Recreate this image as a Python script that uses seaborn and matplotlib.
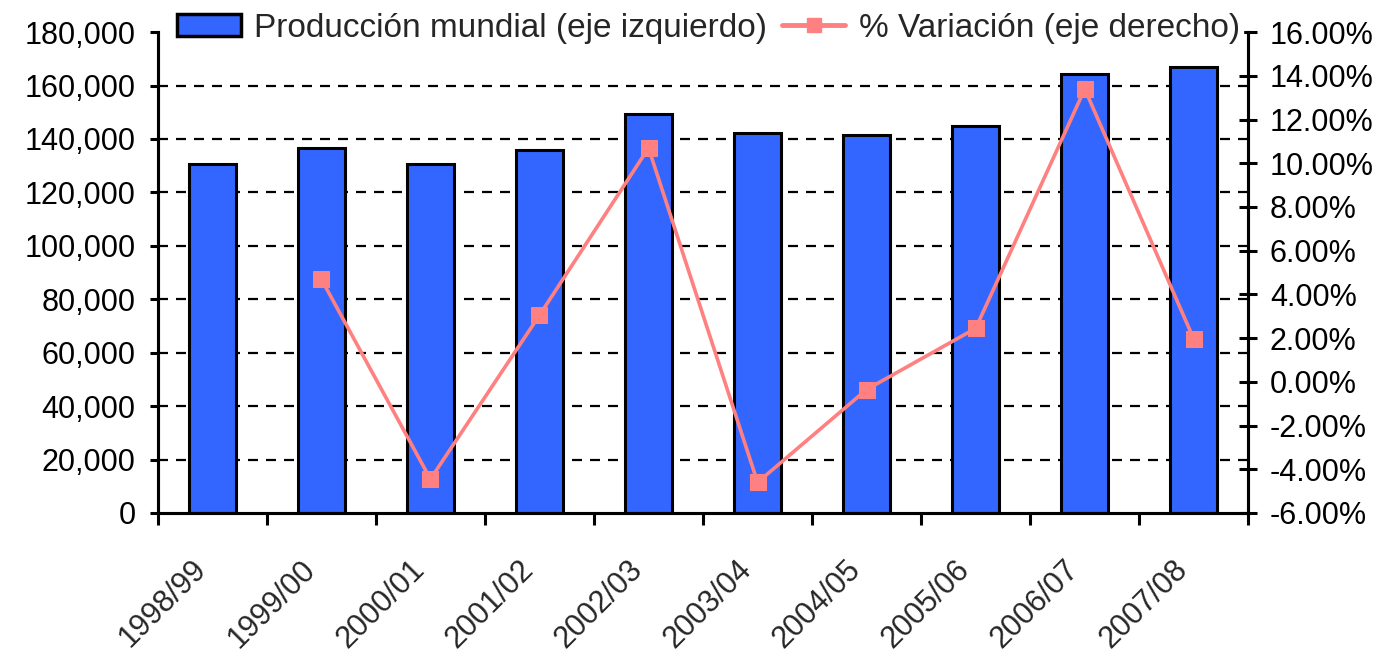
import numpy as np
import pandas as pd
import matplotlib
matplotlib.use("Agg")
import matplotlib.pyplot as plt
import seaborn as sns
from matplotlib.ticker import FuncFormatter, FixedLocator
from matplotlib.patches import Patch
from matplotlib.lines import Line2D

categories = ["1998/99", "1999/00", "2000/01", "2001/02", "2002/03",
              "2003/04", "2004/05", "2005/06", "2006/07", "2007/08"]
produccion = [130500, 136800, 130500, 135800, 149200,
              142300, 141600, 145000, 164200, 166800]
variacion = [np.nan, 4.70, -4.45, 3.05, 10.70,
             -4.60, -0.35, 2.45, 13.40, 1.95]

label_bar = "Producción mundial (eje izquierdo)"
label_line = "% Variación (eje derecho)"

sns.set_theme(style="white")
plt.rcParams['font.family'] = ['Liberation Sans', 'DejaVu Sans']

BLUE = "#3366FF"
PINK = "#FF8080"
FS = 22
FS_LEG = 24

fig = plt.figure(figsize=(13.84, 6.56), dpi=100)
ax = fig.add_axes([0.114, 0.218, 0.788, 0.733])

df = pd.DataFrame({"cat": categories, "prod": produccion, "var": variacion})

# gridlines (behind bars)
for v in range(20000, 180000, 20000):
    ax.axhline(v, color="black", lw=1.6, ls=(0, (4.5, 3.6)), zorder=0)

sns.barplot(data=df, x="cat", y="prod", ax=ax, color=BLUE, width=0.43,
            edgecolor="black", linewidth=2.2, saturation=1, zorder=2)
ax.set_xlim(-0.5, len(categories) - 0.5)
ax.set_ylim(0, 180000)
ax.set_xlabel("")
ax.set_ylabel("")
ax.set_yticks(range(0, 180001, 20000))
ax.yaxis.set_major_formatter(FuncFormatter(lambda v, p: f"{int(v):,}"))
ax.tick_params(axis="y", labelsize=FS, length=6, width=2.2, direction="out",
               pad=10, colors="black", left=True)
ax.tick_params(axis="x", which="major", length=0, labelsize=FS, pad=45)
ax.xaxis.set_minor_locator(FixedLocator(np.arange(-0.5, len(categories), 1.0)))
ax.tick_params(axis="x", which="minor", length=8.5, width=2.2, direction="out",
               bottom=True, color="black")
for lab in ax.get_xticklabels():
    lab.set_rotation(45)
    lab.set_ha("right")
    lab.set_va("bottom")
    lab.set_rotation_mode("anchor")

for s in ["left", "bottom", "right"]:
    ax.spines[s].set_color("black")
    ax.spines[s].set_linewidth(2.2)
ax.spines["top"].set_visible(False)

ax2 = ax.twinx()
xpos = np.arange(len(categories))
sns.lineplot(x=xpos, y=variacion, ax=ax2, color=PINK, lw=2.6, marker="s",
             markersize=11, markeredgecolor=PINK, zorder=5)
ax2.set_ylim(-6, 16)
ax2.set_yticks(np.arange(-6, 16.01, 2))
ax2.yaxis.set_major_formatter(FuncFormatter(lambda v, p: f"{v:.2f}%"))
ax2.tick_params(axis="y", labelsize=FS, length=13, width=2.2, direction="inout",
                pad=9, colors="black", right=True)
for s in ["left", "bottom", "right"]:
    ax2.spines[s].set_color("black")
    ax2.spines[s].set_linewidth(2.2)
ax2.spines["top"].set_visible(False)
ax2.set_xlim(-0.5, len(categories) - 0.5)

handles = [Patch(facecolor=BLUE, edgecolor="black", linewidth=2.5, label=label_bar),
           Line2D([0], [0], color=PINK, lw=3.5, marker="s", markersize=10,
                  label=label_line)]
leg = ax2.legend(handles=handles, loc="center", bbox_to_anchor=(0.505, 1.008),
                 ncol=2, frameon=True, fontsize=FS_LEG, handlelength=1.9,
                 handleheight=0.64, columnspacing=0.45, handletextpad=0.4,
                 borderpad=0.1, borderaxespad=0)
leg.get_frame().set_facecolor("white")
leg.get_frame().set_edgecolor("white")
leg.get_frame().set_alpha(1)

fig.savefig("out.png", dpi=100, facecolor="white")
